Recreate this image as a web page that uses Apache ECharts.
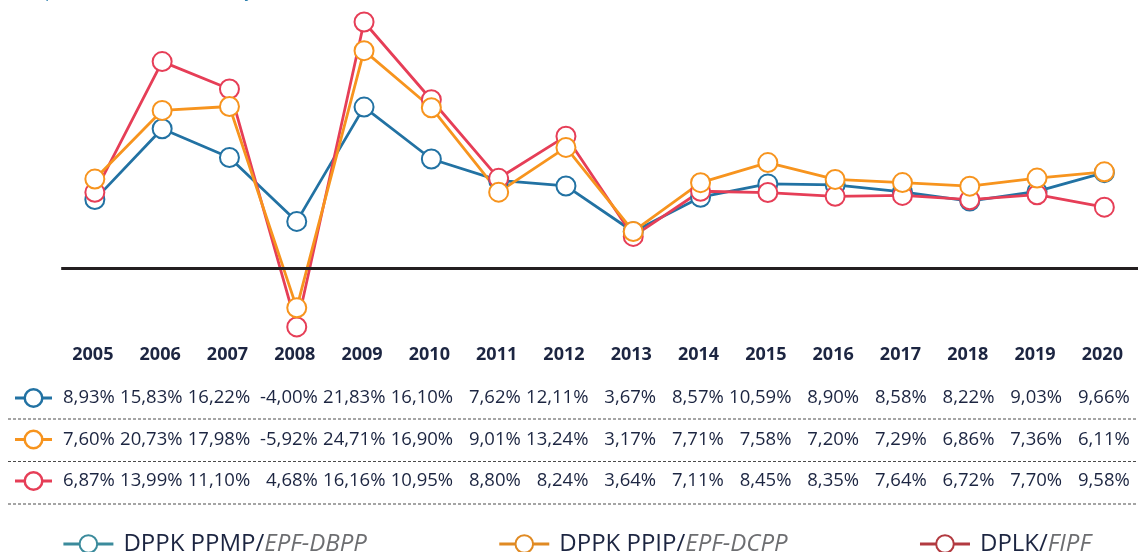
<!DOCTYPE html>
<html>
<head>
<meta charset="utf-8">
<script src="https://cdn.jsdelivr.net/npm/echarts@6/dist/echarts.min.js"></script>
<style>
  html, body { margin: 0; padding: 0; background: #ffffff; }
  #chart { width: 1138px; height: 552px; }
</style>
</head>
<body>
<div id="chart"></div>
<script>
// Annual investment returns (%) per pension programme
const years = ['2005', '2006', '2007', '2008', '2009', '2010', '2011', '2012',
               '2013', '2014', '2015', '2016', '2017', '2018', '2019', '2020'];
const ppmp = [8.93, 15.83, 16.22, -4.00, 21.83, 16.10, 7.62, 12.11, 3.67, 8.57, 10.59, 8.90, 8.58, 8.22, 9.03, 9.66];
const ppip = [7.60, 20.73, 17.98, -5.92, 24.71, 16.90, 9.01, 13.24, 3.17, 7.71, 7.58, 7.20, 7.29, 6.86, 7.36, 6.11];
const dplk = [6.87, 13.99, 11.10, 4.68, 16.16, 10.95, 8.80, 8.24, 3.64, 7.11, 8.45, 8.35, 7.64, 6.72, 7.70, 9.58];
const names = ['DPPK PPMP/EPF-DBPP', 'DPPK PPIP/EPF-DCPP', 'DPLK/FIPF'];

const TEXT = '#1c2541';
const FONT = '"Open Sans", "Noto Sans", sans-serif';

// stroke colours of the plotted lines
const lineColor = { ppmp: '#f7941e', ppip: '#e63e57', dplk: '#2272a3' };
// colours of the table row keys
const rowKeyColor = ['#2272a3', '#f7941e', '#e63e57'];
// colours of the legend keys
const legendColor = ['#3b8b9c', '#e08a23', '#b23a40'];

const fmt = v => v.toFixed(2).replace('.', ',') + '%';

function lineSeries(name, data, color, extra) {
  return Object.assign({
    name: name,
    type: 'line',
    data: data,
    symbol: 'emptyCircle',
    symbolSize: 19,
    showSymbol: true,
    itemStyle: { color: color, borderWidth: 2.5 },
    lineStyle: { color: color, width: 2.8 },
    emphasis: { disabled: true },
    animation: false
  }, extra || {});
}

const chart = echarts.init(document.getElementById('chart'), null, { renderer: 'canvas' });

chart.setOption({
  animation: false,
  backgroundColor: '#ffffff',
  grid: { left: 61.2, top: 19.1, width: 1080.6, height: 318.6, containLabel: false },
  xAxis: {
    type: 'category',
    data: years,
    boundaryGap: true,
    axisLine: { show: false, onZero: false },
    axisTick: { show: false },
    splitLine: { show: false },
    axisLabel: {
      margin: 8,
      color: TEXT,
      fontFamily: FONT,
      fontWeight: 'bold',
      fontSize: 18,
      padding: [0, 4, 0, 0]
    }
  },
  yAxis: {
    type: 'value',
    min: -7,
    max: 25,
    show: false,
    splitLine: { show: false }
  },
  legend: {
    left: 62,
    top: 532,
    padding: 0,
    itemWidth: 50,
    itemHeight: 22,
    itemGap: 131,
    selectedMode: false,
    data: names.map((n, i) => ({
      name: n,
      itemStyle: { color: legendColor[i], borderColor: legendColor[i] },
      lineStyle: { color: legendColor[i], width: 2.8 }
    })),
    formatter: n => {
      const parts = n.split('/');
      return '{a|' + parts[0] + '/}{b|' + parts[1] + '}';
    },
    textStyle: {
      rich: {
        a: { fontFamily: FONT, fontSize: 24, color: TEXT, padding: [0, 0, 0, 5] },
        b: { fontFamily: FONT, fontSize: 24, fontStyle: 'italic', color: '#6d6e71' }
      }
    }
  },
  series: [
    lineSeries(names[2], dplk, lineColor.dplk, {
      markLine: {
        silent: true,
        symbol: ['none', 'none'],
        label: { show: false },
        lineStyle: { color: '#231f20', width: 3, type: 'solid' },
        emphasis: { disabled: true },
        data: [{ yAxis: 0 }]
      }
    }),
    lineSeries(names[1], ppip, lineColor.ppip),
    lineSeries(names[0], ppmp, lineColor.ppmp)
  ]
});

// Data table under the axis, one column per year, aligned on the category axis
const rows = [ppmp, ppip, dplk];
const rowY = [398, 439.5, 481];
const ruleY = [419, 461.5, 504];
const xs = years.map(y => chart.convertToPixel({ xAxisIndex: 0 }, y));
const graphics = [];

// caption line above the plot
graphics.push({
  type: 'text',
  silent: true,
  style: {
    x: 2, y: 0,
    text: 'Imbal pertumbuhan aset tahunan yaitu hasil investasi (%)',
    align: 'left', verticalAlign: 'bottom',
    font: 'italic 16px ' + FONT,
    fill: '#2b7fae'
  }
});

rows.forEach((vals, r) => {
  const cy = rowY[r];
  graphics.push({
    type: 'line', silent: true,
    shape: { x1: 15, y1: cy, x2: 52, y2: cy },
    style: { stroke: rowKeyColor[r], lineWidth: 2.8 }
  });
  graphics.push({
    type: 'circle', silent: true,
    shape: { cx: 33.5, cy: cy, r: 8.8 },
    style: { fill: '#ffffff', stroke: rowKeyColor[r], lineWidth: 2.5 }
  });
  vals.forEach((v, i) => {
    graphics.push({
      type: 'text', silent: true,
      style: {
        // columns widen slightly towards the right edge of the table
        x: xs[i] + 20 + i * 0.36, y: cy,
        text: fmt(v),
        align: 'right', verticalAlign: 'middle',
        font: '18.5px ' + FONT,
        fill: TEXT
      }
    });
  });
  graphics.push({
    type: 'line', silent: true,
    shape: { x1: 8, y1: ruleY[r], x2: 1138, y2: ruleY[r] },
    style: { stroke: '#4a4a4a', lineWidth: 1, lineDash: [3, 2] }
  });
});

chart.setOption({ graphic: graphics });
</script>
</body>
</html>
